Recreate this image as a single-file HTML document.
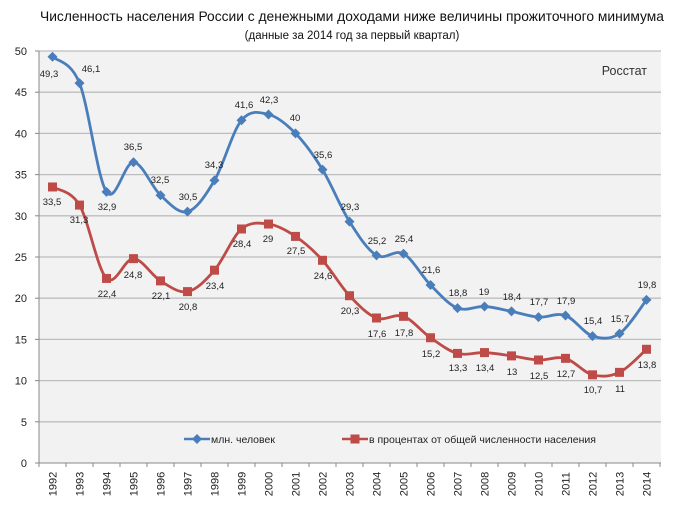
<!DOCTYPE html>
<html><head><meta charset="utf-8"><style>
body{margin:0;background:#fff;}
svg{display:block;font-family:"Liberation Sans","DejaVu Sans",sans-serif;}
</style></head><body>
<svg id="s" width="680" height="506" xmlns="http://www.w3.org/2000/svg">
<text x="352" y="21" font-size="13.8" text-anchor="middle" fill="#111">Численность населения России с денежными доходами ниже величины прожиточного минимума</text>
<text x="352" y="39" font-size="11.5" text-anchor="middle" fill="#111">(данные за 2014 год за первый квартал)</text>
<rect x="39" y="51" width="622" height="412" fill="#f2f2f2"/>
<g id="g"></g>
</svg>
<script>
const NS="http://www.w3.org/2000/svg",g=document.getElementById('g');
function el(t,a,txt){const e=document.createElementNS(NS,t);for(const k in a)e.setAttribute(k,a[k]);if(txt!==undefined)e.textContent=txt;g.appendChild(e);return e;}
const Y=v=>463-8.24*v, X=i=>52.5+27*i;
for(let v=5;v<=50;v+=5){el('line',{x1:39,x2:661,y1:Y(v),y2:Y(v),stroke:'#bdbdbd','stroke-width':1.3});}
for(let v=0;v<=50;v+=5){el('text',{x:27,y:Y(v)+4,'font-size':11,'text-anchor':'end',fill:'#222'},v);el('line',{x1:35,x2:39,y1:Y(v),y2:Y(v),stroke:'#888'});}
el('line',{x1:39,x2:39,y1:51,y2:463,stroke:'#888'});
el('line',{x1:39,x2:661,y1:463,y2:463,stroke:'#888'});
for(let i=0;i<=23;i++)el('line',{x1:39+27*i,x2:39+27*i,y1:463,y2:467,stroke:'#888'});
for(let i=0;i<23;i++){const x=X(i)+4;el('text',{x:x,y:484,'font-size':11,'text-anchor':'middle',fill:'#222',transform:`rotate(-90 ${x} 484)`},1992+i);}
el('text',{x:647,y:75,'font-size':12.5,'text-anchor':'end',fill:'#333'},'Росстат');
const B=[49.3,46.1,32.9,36.5,32.5,30.5,34.3,41.6,42.3,40,35.6,29.3,25.2,25.4,21.6,18.8,19,18.4,17.7,17.9,15.4,15.7,19.8];
const R=[33.5,31.3,22.4,24.8,22.1,20.8,23.4,28.4,29,27.5,24.6,20.3,17.6,17.8,15.2,13.3,13.4,13,12.5,12.7,10.7,11,13.8];
const BL=[[49,77],[91,72],[107,210],[133,150],[160,183],[188,200],[214,168],[244,108],[269,103],[295,121],[323,158],[350,210],[377,244],[404,242],[431,273],[458,296],[484,295],[512,300],[539,305],[566,304],[593,324],[620,322],[647,288]];
const RL=[[52,205],[79,223],[107,297],[133,278],[161,299],[188,310],[215,289],[242,247],[268,242],[296,254],[323,279],[350,314],[377,337],[404,336],[431,357],[458,371],[485,371],[512,375],[539,379],[566,377],[593,393],[620,392],[647,368]];
function path(d){const p=d.map((v,i)=>[X(i),Y(v)]);let s=`M${p[0][0]},${p[0][1]}`;
for(let i=0;i<p.length-1;i++){const p0=p[i-1]||p[i],p1=p[i],p2=p[i+1],p3=p[i+2]||p2;
const c1=[p1[0]+(p2[0]-p0[0])/6,p1[1]+(p2[1]-p0[1])/6],c2=[p2[0]-(p3[0]-p1[0])/6,p2[1]-(p3[1]-p1[1])/6];
s+=`C${c1[0]},${c1[1]} ${c2[0]},${c2[1]} ${p2[0]},${p2[1]}`;}return s;}
function series(d,L,col,sq){el('path',{d:path(d),fill:'none',stroke:col,'stroke-width':2.8});
d.forEach((v,i)=>{const x=X(i),y=Y(v);if(sq)el('rect',{x:x-4.5,y:y-4.5,width:9,height:9,fill:col});else el('polygon',{points:`${x},${y-5} ${x+5},${y} ${x},${y+5} ${x-5},${y}`,fill:col});
el('text',{x:L[i][0],y:L[i][1],'font-size':9.5,'text-anchor':'middle',fill:'#222'},String(v).replace('.',','));});}
series(R,RL,'#be4b48',true);
series(B,BL,'#4a7ebb',false);
el('line',{x1:184,x2:210,y1:439,y2:439,stroke:'#4a7ebb','stroke-width':2.6});
el('polygon',{points:'197,434 202,439 197,444 192,439',fill:'#4a7ebb'});
el('text',{x:211,y:443,'font-size':10.5,fill:'#222'},'млн. человек');
el('line',{x1:342,x2:368,y1:439,y2:439,stroke:'#be4b48','stroke-width':2.6});
el('rect',{x:350.5,y:434.5,width:9,height:9,fill:'#be4b48'});
el('text',{x:369,y:443,'font-size':10.5,fill:'#222'},'в процентах  от общей численности населения');
</script>
</body></html>
